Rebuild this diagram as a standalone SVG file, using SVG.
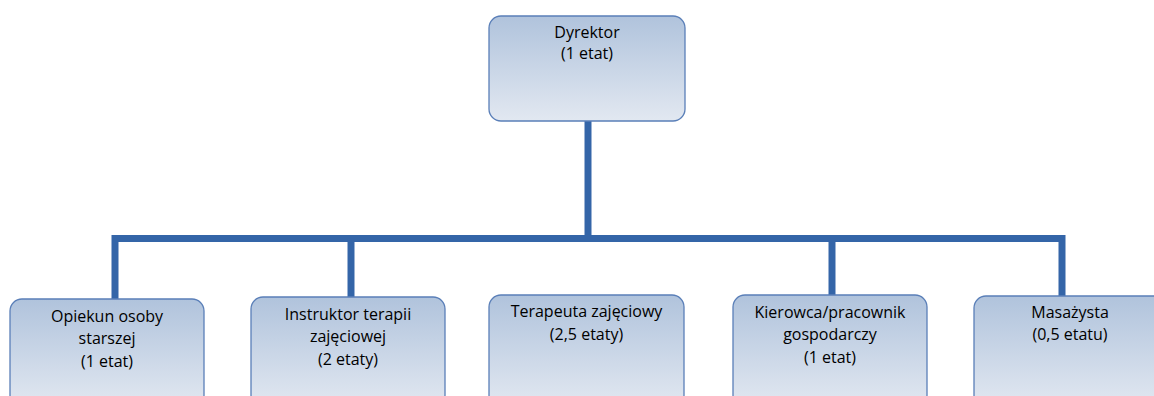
<svg xmlns="http://www.w3.org/2000/svg" width="1154" height="396" viewBox="0 0 1154 396">
<defs>
<linearGradient id="g" x1="0" y1="0" x2="0" y2="1">
<stop offset="0" stop-color="#b0c3dc"/>
<stop offset="1" stop-color="#e2e8f1"/>
</linearGradient>
<style>
.box{fill:url(#g);stroke:#5a7fb8;stroke-width:1.3}
.t{font-family:"Open Sans","Liberation Sans",Arial,sans-serif;font-size:16px;fill:#000;text-anchor:middle}
.ln{stroke:#3465a8;stroke-width:7;fill:none}
</style>
</defs>
<rect width="1154" height="396" fill="#fff"/>
<g id="connectors">
<path class="ln" d="M588 121 V235"/>
<path class="ln" d="M115 299 V238.5 H1062 V296"/>
<path class="ln" d="M351 238.5 V297"/>
<path class="ln" d="M832 238.5 V295"/>
</g>
<g id="dyrektor">
<rect class="box" x="489" y="16" width="196" height="105" rx="12"/>
<text class="t" x="587" y="38">Dyrektor</text>
<text class="t" x="587" y="59">(1 etat)</text>
</g>
<g id="opiekun">
<rect class="box" x="10" y="299" width="194" height="108" rx="12"/>
<text class="t" x="107" y="322">Opiekun osoby</text>
<text class="t" x="107" y="344">starszej</text>
<text class="t" x="107" y="367">(1 etat)</text>
</g>
<g id="instruktor">
<rect class="box" x="251" y="297" width="194" height="110" rx="12"/>
<text class="t" x="348" y="320">Instruktor terapii</text>
<text class="t" x="348" y="342">zajęciowej</text>
<text class="t" x="348" y="365">(2 etaty)</text>
</g>
<g id="terapeuta">
<rect class="box" x="489" y="295" width="195" height="112" rx="12"/>
<text class="t" x="586.5" y="317">Terapeuta zajęciowy</text>
<text class="t" x="586.5" y="340">(2,5 etaty)</text>
</g>
<g id="kierowca">
<rect class="box" x="733" y="295" width="194" height="112" rx="12"/>
<text class="t" x="830" y="318">Kierowca/pracownik</text>
<text class="t" x="830" y="340">gospodarczy</text>
<text class="t" x="830" y="363">(1 etat)</text>
</g>
<g id="masazysta">
<rect class="box" x="974" y="296" width="194" height="111" rx="12"/>
<text class="t" x="1070" y="318">Masażysta</text>
<text class="t" x="1070" y="340">(0,5 etatu)</text>
</g>
</svg>
